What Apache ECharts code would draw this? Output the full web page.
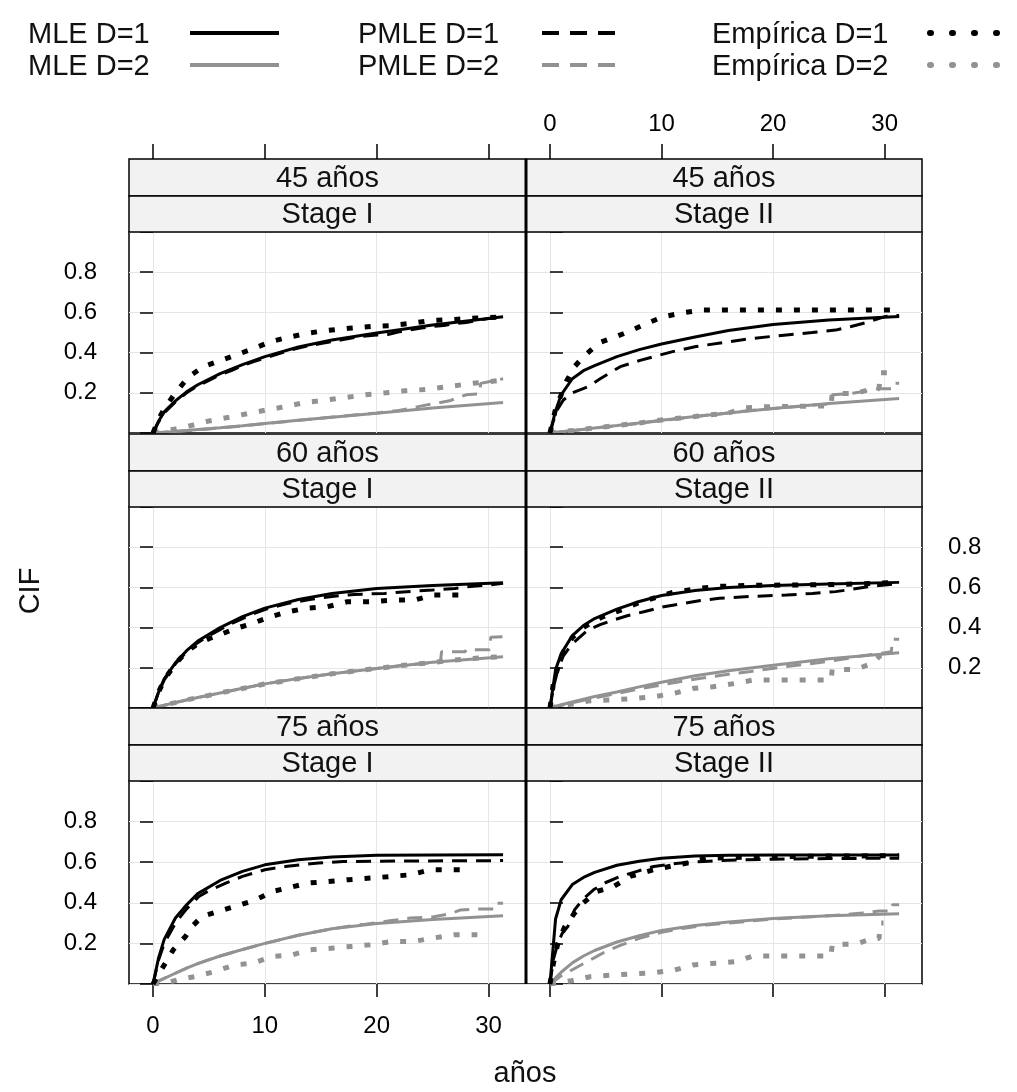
<!DOCTYPE html>
<html><head><meta charset="utf-8">
<script src="https://cdn.jsdelivr.net/npm/echarts@6/dist/echarts.min.js"></script>
<style>html,body{margin:0;padding:0;background:#fff}#c{width:1017px;height:1092px}</style>
</head><body><div id="c"></div>
<script>
// ---------- labels ----------
const ageLabels = ['45 años', '60 años', '75 años'];
const stageLabels = ['Stage I', 'Stage II'];
const legendNames = ['MLE D=1', 'MLE D=2', 'PMLE D=1', 'PMLE D=2', 'Empírica D=1', 'Empírica D=2'];
const xTicks = [0, 10, 20, 30];
const xTitle = 'años';
const yTitle = 'CIF';

// ---------- MLE curves (smooth) on a common time grid ----------
const tMLE = [0, 0.5, 1, 2, 3, 4, 6, 8, 10, 13, 16, 20, 25, 31.3];
const mle1_45_I  = [0, 0.06, 0.105, 0.16, 0.205, 0.24, 0.295, 0.34, 0.38, 0.428, 0.463, 0.498, 0.537, 0.578];
const mle2_45_I  = [0, 0.002, 0.004, 0.008, 0.012, 0.017, 0.026, 0.036, 0.047, 0.063, 0.078, 0.098, 0.124, 0.152];
const mle1_45_II = [0, 0.11, 0.19, 0.27, 0.31, 0.335, 0.38, 0.415, 0.443, 0.478, 0.51, 0.54, 0.562, 0.579];
const mle2_45_II = [0, 0.003, 0.006, 0.012, 0.018, 0.025, 0.037, 0.05, 0.063, 0.082, 0.1, 0.122, 0.147, 0.172];
const mle1_60_I  = [0, 0.08, 0.145, 0.225, 0.285, 0.333, 0.4, 0.455, 0.497, 0.54, 0.57, 0.594, 0.61, 0.623];
const mle2_60_I  = [0, 0.007, 0.014, 0.027, 0.04, 0.052, 0.075, 0.098, 0.12, 0.147, 0.17, 0.197, 0.228, 0.255];
const mle1_60_II = [0, 0.19, 0.27, 0.36, 0.41, 0.445, 0.492, 0.53, 0.56, 0.585, 0.6, 0.61, 0.617, 0.625];
const mle2_60_II = [0, 0.008, 0.016, 0.03, 0.044, 0.057, 0.08, 0.105, 0.128, 0.16, 0.185, 0.213, 0.245, 0.275];
const mle1_75_I  = [0, 0.13, 0.22, 0.325, 0.39, 0.445, 0.51, 0.555, 0.587, 0.612, 0.626, 0.634, 0.636, 0.637];
const mle2_75_I  = [0, 0.015, 0.028, 0.053, 0.078, 0.1, 0.138, 0.17, 0.2, 0.24, 0.272, 0.298, 0.318, 0.336];
const mle1_75_II = [0, 0.32, 0.415, 0.49, 0.525, 0.55, 0.585, 0.605, 0.62, 0.63, 0.634, 0.635, 0.635, 0.635];
const mle2_75_II = [0, 0.03, 0.058, 0.104, 0.138, 0.165, 0.207, 0.238, 0.264, 0.288, 0.305, 0.323, 0.336, 0.346];

// ---------- PMLE and empirical estimates [time, CIF] ----------
const pmle1_45_I = [[0,0],[0.5,0.055],[1,0.1],[2,0.155],[3,0.2],[4,0.235],[5,0.262],[6,0.29],[7,0.31],[8,0.335],[9,0.355],[10,0.372],[11,0.39],[12,0.408],[13,0.423],[14,0.435],[15,0.445],[16,0.455],[17,0.465],[18,0.475],[19,0.483],[20,0.487],[21,0.49],[22,0.503],[23,0.513],[24,0.522],[25,0.53],[26,0.535],[27,0.545],[28,0.55],[29,0.56],[30,0.57],[31.3,0.578]];
const emp1_45_I = [[0,0],[0.5,0.07],[1,0.12],[2,0.2],[3.2,0.28],[4.5,0.33],[6,0.36],[7.4,0.388],[9,0.42],[10.5,0.454],[12,0.475],[13.8,0.496],[15.5,0.51],[17.5,0.521],[19.5,0.53],[21.1,0.534],[23,0.545],[24.8,0.559],[27,0.565],[29,0.572],[31.3,0.578]];
const pmle2_45_I = [[0,0],[2,0.008],[5,0.02],[8,0.035],[11,0.052],[14,0.068],[17,0.084],[20,0.1],[22,0.112],[24.5,0.14],[26.5,0.16],[28,0.19],[29.2,0.195],[29.3,0.247],[30.5,0.26],[31.3,0.27]];
const emp2_45_I = [[0,0],[1,0.01],[2,0.02],[3.6,0.04],[5,0.06],[6.8,0.078],[8.5,0.097],[10.1,0.114],[12,0.133],[13.5,0.151],[15.5,0.165],[17.1,0.176],[19,0.19],[20.8,0.2],[22.5,0.21],[24.5,0.217],[26.5,0.232],[28.6,0.247],[30,0.255],[31.3,0.264]];

const pmle1_45_II = [[0,0],[0.3,0.06],[0.7,0.12],[1.2,0.164],[2,0.2],[3.4,0.23],[4.5,0.27],[6.3,0.33],[8,0.36],[9.3,0.38],[11,0.405],[13.1,0.43],[15.5,0.45],[18.2,0.471],[21.2,0.488],[23.5,0.5],[25.6,0.512],[27,0.53],[28.3,0.549],[30.1,0.58],[31.3,0.585]];
const emp1_45_II = [[0,0],[0.5,0.12],[1,0.19],[1.5,0.26],[2.2,0.33],[3,0.38],[4.4,0.449],[5.9,0.479],[7.3,0.51],[8.7,0.546],[10.2,0.579],[12,0.599],[13.6,0.612],[30.9,0.612]];
const pmle2_45_II = [[0,0],[2,0.012],[4,0.024],[6,0.036],[8,0.048],[10,0.062],[12,0.075],[14,0.088],[16,0.1],[18,0.112],[20,0.122],[22,0.13],[24,0.14],[25.2,0.145],[25.3,0.19],[27,0.197],[28.5,0.21],[29.5,0.22],[30.6,0.22],[30.7,0.247],[31.3,0.247]];
const emp2_45_II = [[0,0],[1,0.006],[2,0.012],[4,0.025],[6,0.037],[8,0.05],[10,0.065],[12,0.076],[14,0.088],[16,0.1],[17.5,0.125],[19,0.13],[25.2,0.135],[25.3,0.197],[27.4,0.197],[28.9,0.22],[29.5,0.22],[29.6,0.3],[30.2,0.3]];

const pmle1_60_I = [[0,0],[0.5,0.08],[1,0.14],[2,0.22],[3,0.28],[4,0.325],[5,0.36],[6,0.39],[7,0.42],[8,0.445],[9,0.47],[10,0.49],[11,0.505],[12,0.52],[14,0.54],[16,0.555],[18,0.565],[20.7,0.57],[23,0.58],[25,0.587],[27,0.595],[28,0.603],[30,0.612],[31.3,0.62]];
const emp1_60_I = [[0,0],[0.5,0.08],[1,0.14],[2,0.22],[3,0.28],[4,0.32],[5,0.345],[5.9,0.363],[7.4,0.396],[8.9,0.421],[10.5,0.454],[12.1,0.479],[13.7,0.496],[15.6,0.504],[17.4,0.529],[19.5,0.529],[21.5,0.537],[23.4,0.537],[25,0.562],[27.3,0.562]];
const pmle2_60_I = [[0,0],[2,0.027],[4,0.052],[6,0.075],[8,0.097],[10,0.12],[12,0.138],[14,0.155],[16,0.17],[18,0.184],[20,0.197],[22,0.21],[24,0.22],[25.7,0.23],[25.8,0.28],[27.9,0.28],[28,0.29],[30.1,0.29],[30.2,0.352],[31.3,0.355]];
const emp2_60_I = [[0,0],[1,0.015],[2,0.027],[3,0.04],[4,0.052],[5,0.063],[6,0.075],[7,0.086],[8,0.097],[9,0.108],[10,0.12],[11.5,0.132],[13,0.146],[14.5,0.158],[16,0.17],[17.5,0.18],[19,0.19],[20.5,0.2],[22,0.21],[23.5,0.218],[25,0.227],[26.5,0.236],[28,0.244],[29.5,0.25],[31,0.255]];

const pmle1_60_II = [[0,0],[0.3,0.1],[0.7,0.19],[1.2,0.26],[2,0.32],[3.4,0.388],[4.5,0.415],[5.7,0.438],[7,0.46],[8.5,0.48],[10.2,0.504],[12,0.52],[13.5,0.535],[15.2,0.546],[18,0.555],[21.2,0.562],[23.5,0.57],[25.6,0.579],[27,0.59],[28.5,0.603],[30,0.612],[31.3,0.62]];
const emp1_60_II = [[0,0],[0.3,0.12],[0.7,0.2],[1.2,0.28],[2,0.35],[3,0.4],[4,0.435],[5,0.46],[6.5,0.49],[8,0.525],[9.5,0.55],[11,0.575],[13.4,0.595],[15,0.605],[18,0.61],[22,0.612],[26,0.615],[29,0.62],[31.3,0.625]];
const pmle2_60_II = [[0,0],[2,0.026],[4,0.05],[6,0.072],[8,0.095],[10,0.115],[12,0.135],[14,0.152],[16,0.168],[18,0.182],[21,0.205],[24,0.225],[26.5,0.245],[28,0.26],[30,0.275],[30.6,0.28],[30.7,0.342],[31.3,0.342]];
const emp2_60_II = [[0,0],[1,0.012],[2,0.02],[3.4,0.035],[5.5,0.04],[7.7,0.048],[9.3,0.056],[11.1,0.073],[12.9,0.098],[14.6,0.106],[16.7,0.123],[18.2,0.139],[25.2,0.139],[25.3,0.192],[27.4,0.192],[28.9,0.222],[29.6,0.26],[30.2,0.26]];

const pmle1_75_I = [[0,0],[0.5,0.12],[1,0.2],[2,0.3],[3,0.37],[4.1,0.431],[5,0.46],[6.5,0.497],[8,0.53],[10,0.563],[12,0.58],[14.8,0.596],[17,0.603],[20,0.605],[31.3,0.608]];
const emp1_75_I = [[0,0],[0.5,0.05],[1.1,0.102],[1.8,0.168],[2.9,0.234],[3.6,0.29],[4.4,0.333],[6.3,0.365],[7.8,0.39],[9.2,0.415],[10.7,0.456],[12.2,0.475],[13.8,0.497],[15.7,0.505],[17.5,0.514],[19.5,0.522],[21.3,0.53],[23,0.538],[24.8,0.563],[27.5,0.563]];
const pmle2_75_I = [[0,0],[1,0.028],[2,0.053],[3,0.078],[4,0.1],[5,0.12],[6,0.138],[7,0.154],[8,0.17],[9,0.185],[10,0.2],[11.5,0.22],[13,0.24],[14.5,0.256],[16,0.272],[17.5,0.285],[19,0.295],[21,0.31],[23,0.325],[25,0.33],[26.5,0.345],[27.5,0.365],[29,0.37],[30.7,0.37],[30.8,0.398],[31.3,0.398]];
const emp2_75_I = [[0,0],[1.5,0.01],[2.5,0.025],[3.7,0.036],[5.5,0.061],[7.3,0.094],[8.9,0.102],[10.6,0.135],[12.4,0.143],[14,0.168],[15.9,0.176],[17.7,0.185],[19.5,0.193],[21.3,0.209],[23.2,0.209],[25,0.226],[26.9,0.242],[29,0.242]];

const pmle1_75_II = [[0,0],[0.3,0.12],[0.7,0.2],[1.1,0.25],[1.6,0.283],[2.2,0.365],[3,0.42],[3.9,0.464],[5,0.5],[6.3,0.53],[7.8,0.555],[9.3,0.579],[11.5,0.595],[13.8,0.604],[16,0.61],[20,0.615],[25,0.618],[31.3,0.62]];
const emp1_75_II = [[0,0],[0.3,0.1],[0.7,0.2],[1.3,0.28],[2.2,0.349],[3,0.4],[4.2,0.456],[5.7,0.48],[7.2,0.53],[9.3,0.563],[12.3,0.596],[14.1,0.62],[18,0.625],[24,0.63],[31.3,0.632]];
const pmle2_75_II = [[0,0],[0.5,0.02],[1,0.04],[2,0.07],[3,0.1],[4,0.13],[5,0.16],[6.3,0.19],[8,0.225],[10,0.255],[12,0.275],[14,0.29],[16,0.3],[18,0.31],[20,0.32],[23,0.33],[26,0.34],[28,0.35],[29.5,0.36],[30.6,0.36],[30.7,0.39],[31.3,0.39]];
const emp2_75_II = [[0,0],[1.9,0.016],[3.6,0.036],[5.5,0.044],[9.4,0.056],[11.2,0.069],[12.8,0.094],[16.7,0.11],[18.2,0.138],[25.2,0.138],[25.3,0.196],[27.4,0.196],[28.9,0.224],[29.5,0.224],[29.6,0.3],[29.9,0.3]];

// ---------- panels (row = age, col = stage) ----------
const panels = [
  {row:0, col:0, mle1:mle1_45_I,  mle2:mle2_45_I,  pmle1:pmle1_45_I,  pmle2:pmle2_45_I,  emp1:emp1_45_I,  emp2:emp2_45_I},
  {row:0, col:1, mle1:mle1_45_II, mle2:mle2_45_II, pmle1:pmle1_45_II, pmle2:pmle2_45_II, emp1:emp1_45_II, emp2:emp2_45_II},
  {row:1, col:0, mle1:mle1_60_I,  mle2:mle2_60_I,  pmle1:pmle1_60_I,  pmle2:pmle2_60_I,  emp1:emp1_60_I,  emp2:emp2_60_I},
  {row:1, col:1, mle1:mle1_60_II, mle2:mle2_60_II, pmle1:pmle1_60_II, pmle2:pmle2_60_II, emp1:emp1_60_II, emp2:emp2_60_II},
  {row:2, col:0, mle1:mle1_75_I,  mle2:mle2_75_I,  pmle1:pmle1_75_I,  pmle2:pmle2_75_I,  emp1:emp1_75_I,  emp2:emp2_75_I},
  {row:2, col:1, mle1:mle1_75_II, mle2:mle2_75_II, pmle1:pmle1_75_II, pmle2:pmle2_75_II, emp1:emp1_75_II, emp2:emp2_75_II}
];

// ---------- layout & style ----------
const FONT = '"Liberation Sans", Arial, Helvetica, sans-serif';
const BLACK = '#000000';
const GRAY = '#929292';
const GRID_LINE = '#e6e6e6';
const COL_L = [129, 526];
const COL_W = [397, 396];
const ROW_T = [232, 507, 781];
const ROW_H = [201, 201, 203];
const STRIP1 = 37, STRIP2 = 36;
const X_MIN = -2.15, X_MAX = 33.35;
const TICK_FS = 24, TEXT_FS = 29;

const grids = [], xAxes = [], yAxes = [], series = [], graphics = [];

const styleFor = {
  mle:  (c) => ({color: c, width: 3, type: 'solid'}),
  pmle: (c) => ({color: c, width: 3, type: [15, 9], cap: 'butt'}),
  emp:  (c) => ({color: c, width: 5, type: [6, 12], cap: 'butt'})
};

panels.forEach((p, g) => {
  const {row, col} = p;
  grids.push({left: COL_L[col], top: ROW_T[row], width: COL_W[col], height: ROW_H[row],
    show: true, borderColor: BLACK, borderWidth: 1.5, backgroundColor: '#fff', containLabel: false, outerBoundsMode: 'none'});

  const mainX = xAxes.length;
  xAxes.push({gridIndex: g, type: 'value', position: 'bottom', min: X_MIN, max: X_MAX,
    axisLine: {show: false},
    axisTick: {show: row === 2, inside: false, length: 13, customValues: xTicks, lineStyle: {color: BLACK, width: 1.5}},
    axisLabel: {show: row === 2 && col === 0, customValues: xTicks, margin: 30, fontSize: TICK_FS, color: BLACK, fontFamily: FONT},
    splitLine: {show: true, lineStyle: {color: GRID_LINE, width: 1}}
  });
  if (row === 0) {
    xAxes.push({gridIndex: g, type: 'value', position: 'top', offset: STRIP1 + STRIP2, min: X_MIN, max: X_MAX,
      axisLine: {show: false},
      axisTick: {show: true, inside: false, length: 15, customValues: xTicks, lineStyle: {color: BLACK, width: 1.5}},
      axisLabel: {show: col === 1, customValues: xTicks, margin: 23, fontSize: TICK_FS, color: BLACK, fontFamily: FONT},
      splitLine: {show: false}
    });
  }
  const labeled = (col === 0 && row !== 1) || (col === 1 && row === 1);
  const yIdx = yAxes.length;
  yAxes.push({gridIndex: g, type: 'value', position: col === 0 ? 'left' : 'right', min: 0, max: 1, interval: 0.2,
    axisLine: {show: false},
    axisTick: {show: true, inside: false, length: 13, lineStyle: {color: BLACK, width: 1.5}},
    axisLabel: {show: labeled, margin: col === 0 ? 32 : 26, fontSize: TICK_FS, color: BLACK, fontFamily: FONT,
      formatter: v => (v > 0.05 && v < 0.95) ? v.toFixed(1) : ''},
    splitLine: {show: true, lineStyle: {color: GRID_LINE, width: 1}}
  });

  const add = (name, data, kind, color, z) => series.push({
    name, type: 'line', xAxisIndex: mainX, yAxisIndex: yIdx, data,
    symbol: 'none', showSymbol: false, silent: true, animation: false, z,
    lineStyle: styleFor[kind](color)
  });
  add(legendNames[1], tMLE.map((t, i) => [t, p.mle2[i]]), 'mle', GRAY, 2);
  add(legendNames[3], p.pmle2, 'pmle', GRAY, 2);
  add(legendNames[5], p.emp2, 'emp', GRAY, 2);
  add(legendNames[0], tMLE.map((t, i) => [t, p.mle1[i]]), 'mle', BLACK, 3);
  add(legendNames[2], p.pmle1, 'pmle', BLACK, 3);
  add(legendNames[4], p.emp1, 'emp', BLACK, 3);

  // strips
  const x0 = COL_L[col], w = COL_W[col];
  const s1 = ROW_T[row] - STRIP1 - STRIP2, s2 = ROW_T[row] - STRIP2;
  [[s1, STRIP1, ageLabels[row]], [s2, STRIP2, stageLabels[col]]].forEach(([y, h, txt]) => {
    graphics.push({type: 'rect', shape: {x: x0, y: y, width: w, height: h},
      style: {fill: '#f2f2f2', stroke: BLACK, lineWidth: 1.5}, z: 5});
    graphics.push({type: 'text', x: x0 + w / 2, y: y + h / 2 + 1,
      style: {text: txt, font: TEXT_FS + 'px ' + FONT, fill: '#111', align: 'center', verticalAlign: 'middle',
        textAlign: 'center', textVerticalAlign: 'middle'}, z: 6});
  });
});

// column separator (thick line in the middle)
graphics.push({type: 'line', shape: {x1: 526, y1: ROW_T[0] - STRIP1 - STRIP2, x2: 526, y2: ROW_T[2] + ROW_H[2]},
  style: {stroke: BLACK, lineWidth: 3}, z: 7});

// axis titles
graphics.push({type: 'text', x: 31, y: 591, rotation: Math.PI / 2,
  style: {text: yTitle, font: TEXT_FS + 'px ' + FONT, fill: '#111', align: 'center', verticalAlign: 'middle',
    textAlign: 'center', textVerticalAlign: 'middle'}});
graphics.push({type: 'text', x: 525, y: 1074,
  style: {text: xTitle, font: TEXT_FS + 'px ' + FONT, fill: '#111', align: 'center', verticalAlign: 'middle',
    textAlign: 'center', textVerticalAlign: 'middle'}});

// key (legend)
const keyTextX = [28, 358, 712];
const keyLineX = [[190, 279], [542, 622], [930, 1012]];
const keyRowY = [33, 65];
const keyDash = [null, [17, 11], [1, 21]];
legendNames.forEach((nm, i) => {
  const colK = Math.floor(i / 2), rowK = i % 2;
  const color = rowK === 0 ? BLACK : GRAY;
  graphics.push({type: 'text', x: keyTextX[colK], y: keyRowY[rowK] + 2,
    style: {text: nm, font: TEXT_FS + 'px ' + FONT, fill: '#111', align: 'left', verticalAlign: 'middle',
      textAlign: 'left', textVerticalAlign: 'middle'}});
  graphics.push({type: 'line', shape: {x1: keyLineX[colK][0], y1: keyRowY[rowK], x2: keyLineX[colK][1], y2: keyRowY[rowK]},
    style: {stroke: color, lineWidth: colK === 2 ? 6 : 4, lineDash: keyDash[colK], lineCap: colK === 2 ? 'round' : 'butt'}});
});

const chart = echarts.init(document.getElementById('c'), null, {renderer: 'canvas'});
chart.setOption({
  animation: false,
  backgroundColor: '#fff',
  textStyle: {fontFamily: FONT},
  grid: grids, xAxis: xAxes, yAxis: yAxes, series: series,
  graphic: {elements: graphics}
});
</script></body></html>
